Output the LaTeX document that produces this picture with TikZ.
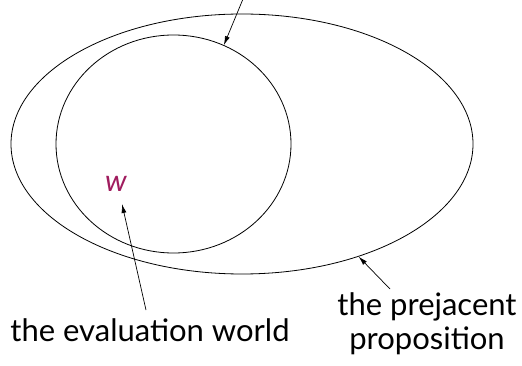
\documentclass[tikz,border=0pt]{standalone}
\usepackage{fontspec}
\setmainfont{Lato}
\usetikzlibrary{shapes.geometric,arrows.meta}
\definecolor{wcol}{HTML}{A01C5E}
\tikzset{
  setline/.style={draw=black, line width=0.8pt, ellipse, inner sep=0pt},
  pointer/.style={-{Latex[length=9pt,width=5pt]}, line width=0.7pt},
  lbl/.style={font=\fontsize{31}{34}\selectfont, align=center, inner sep=0pt}
}
\begin{document}
\begin{tikzpicture}[x=1pt,y=-1pt]
\useasboundingbox (0,0) rectangle (522,366);
\node[setline, minimum width=462pt, minimum height=260pt] (outer) at (242,144) {};
\node[setline, minimum width=235pt, minimum height=218pt] (inner) at (173.5,144) {};
\node[text=wcol, font=\fontsize{30}{32}\selectfont\itshape, inner sep=0pt] (w) at (116,184) {w};
\node[lbl] (eval) at (150,330) {the evaluation world};
\node[lbl] (prej) at (427,324) {the prejacent\\proposition};
\coordinate (topstart) at (243,-1);
\coordinate (evalstart) at (146,310);
\coordinate (prejstart) at (390,289);
\draw[pointer] (topstart) -- (inner.63.7);
\draw[pointer] (evalstart) -- (122,204);
\draw[pointer] (prejstart) -- (outer.-44);
\end{tikzpicture}
\end{document}
